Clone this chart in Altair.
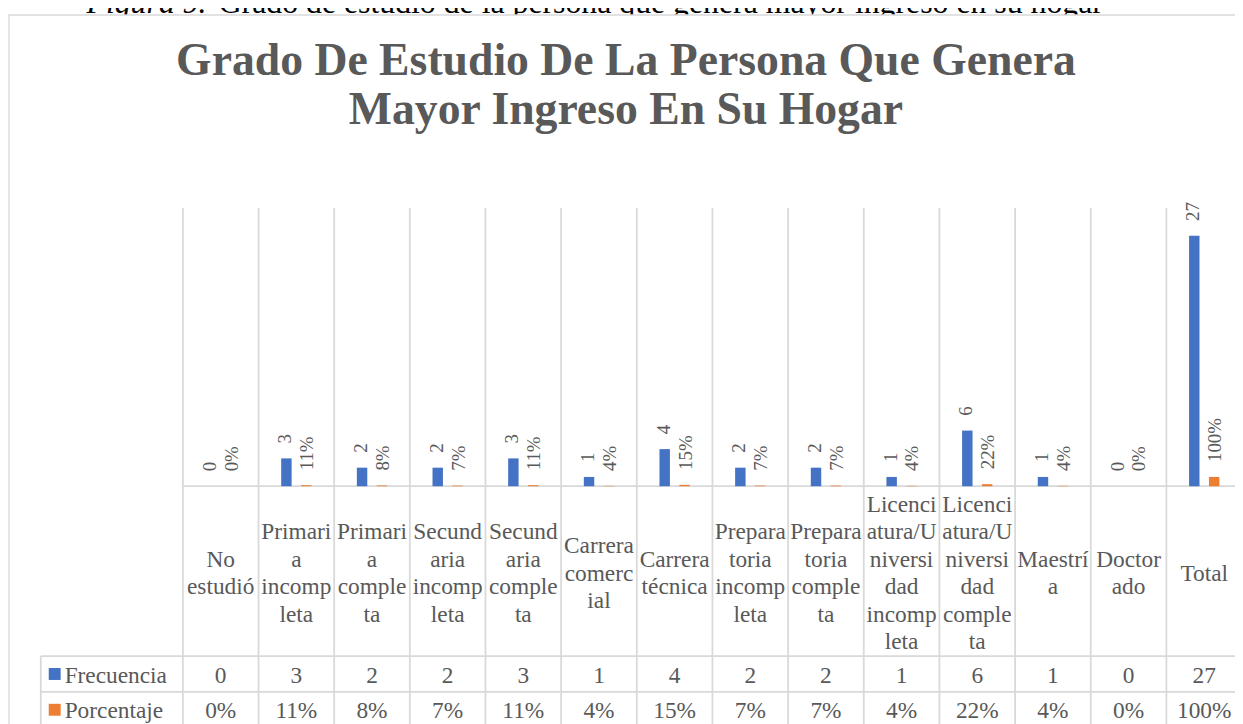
import altair as alt
import pandas as pd

# ---------------- data ----------------
categories = [
    "No estudió", "Primaria incompleta", "Primaria completa", "Secundaria incompleta",
    "Secundaria completa", "Carrera comercial", "Carrera técnica", "Preparatoria incompleta",
    "Preparatoria completa", "Licenciatura/Universidad incompleta",
    "Licenciatura/Universidad completa", "Maestría", "Doctorado", "Total",
]
category_lines = [
    ["No", "estudió"],
    ["Primari", "a", "incomp", "leta"],
    ["Primari", "a", "comple", "ta"],
    ["Secund", "aria", "incomp", "leta"],
    ["Secund", "aria", "comple", "ta"],
    ["Carrera", "comerc", "ial"],
    ["Carrera", "técnica"],
    ["Prepara", "toria", "incomp", "leta"],
    ["Prepara", "toria", "comple", "ta"],
    ["Licenci", "atura/U", "niversi", "dad", "incomp", "leta"],
    ["Licenci", "atura/U", "niversi", "dad", "comple", "ta"],
    ["Maestrí", "a"],
    ["Doctor", "ado"],
    ["Total"],
]
frecuencia = [0, 3, 2, 2, 3, 1, 4, 2, 2, 1, 6, 1, 0, 27]
porcentaje = [0.00, 0.11, 0.08, 0.07, 0.11, 0.04, 0.15, 0.07, 0.07, 0.04, 0.22, 0.04, 0.00, 1.00]
series = ["Frecuencia", "Porcentaje"]
series_colors = ["#4472C4", "#ED7D31"]
title_lines = ["Grado De Estudio De La Persona Que Genera", "Mayor Ingreso En Su Hogar"]
caption_italic = "Figura 9."
caption_rest = "Grado de estudio de la persona que genera mayor ingreso en su hogar"

FONT = "Liberation Serif"
GRAY = "#595959"
GRID = "#D9D9D9"
LH = 27.7          # line height of the table header labels
HEADER_MID = 567   # vertical centre of the table header row

df = pd.DataFrame({
    "category": categories,
    "label": ["\n".join(l) for l in category_lines],
    "nlines": [len(l) for l in category_lines],
    "freq": frecuencia,
    "pct": porcentaje,
})

XS = alt.Scale(range=[176, 1242.1], paddingInner=0, paddingOuter=0)
X = alt.X("category:N", sort=categories, axis=None, scale=XS)
XB = alt.X("category:N", sort=categories, axis=None, bandPosition=0, scale=XS)
YS = alt.Scale(domain=[0, 30], range=[479, 199])

base = alt.Chart(df)

def one(d):
    return alt.Chart(pd.DataFrame(d))

# caption (clipped at the top, as in the reference)
cap1 = one({"t": [caption_italic]}).mark_text(
    font=FONT, fontSize=32, fontStyle="italic", align="left", baseline="alphabetic", color="black"
).encode(x=alt.value(79), y=alt.value(3), text="t:N")
cap2 = one({"t": [caption_rest]}).mark_text(
    font=FONT, fontSize=32, align="left", baseline="alphabetic", color="black"
).encode(x=alt.value(212), y=alt.value(3), text="t:N")

frame = one({"k": [0]}).mark_rect(fill="white", stroke=GRID, strokeWidth=1.3).encode(
    x=alt.value(1), x2=alt.value(1320), y=alt.value(4.7), y2=alt.value(820))

title = one({"t": ["\n".join(title_lines)]}).mark_text(
    font=FONT, fontSize=46, fontWeight="bold", color=GRAY, align="center", baseline="top",
    lineBreak="\n", lineHeight=49
).encode(x=alt.value(622), y=alt.value(29), text="t:N")

vgrid = base.mark_rule(color=GRID, strokeWidth=1.8).encode(
    x=XB, y=alt.value(199), y2=alt.value(740))
baseline = one({"k": [0]}).mark_rule(color=GRID, strokeWidth=1.8).encode(
    x=alt.value(176), x2=alt.value(1300), y=alt.value(479))
hline1 = one({"k": [0]}).mark_rule(color=GRID, strokeWidth=1.8).encode(
    x=alt.value(33), x2=alt.value(1300), y=alt.value(650))
hline2 = one({"k": [0]}).mark_rule(color=GRID, strokeWidth=1.8).encode(
    x=alt.value(33), x2=alt.value(1300), y=alt.value(686))
lborder = one({"k": [0]}).mark_rule(color=GRID, strokeWidth=1.8).encode(
    x=alt.value(33), y=alt.value(650), y2=alt.value(740))

bars_f = base.mark_bar(size=10.5, xOffset=-10, color=series_colors[0]).encode(
    x=X, y=alt.Y("freq:Q", scale=YS, axis=None))
bars_p = base.mark_bar(size=10.5, xOffset=10, color=series_colors[1]).encode(
    x=X, y=alt.Y("pct:Q", scale=YS, axis=None))

lab_f = base.mark_text(font=FONT, fontSize=19, color=GRAY, angle=270, align="left",
                       baseline="middle", xOffset=-11, yOffset=-15).encode(
    x=X, y=alt.Y("freq:Q", scale=YS, axis=None), text=alt.Text("freq:Q", format="d"))
lab_p = base.mark_text(font=FONT, fontSize=19, color=GRAY, angle=270, align="left",
                       baseline="middle", xOffset=11, yOffset=-15).encode(
    x=X, y=alt.Y("pct:Q", scale=YS, axis=None), text=alt.Text("pct:Q", format=".0%"))

# category header labels: one layer per line count so each block is vertically centred
cat_layers = []
for n in sorted(set(df["nlines"])):
    cat_layers.append(
        base.transform_filter(alt.datum.nlines == n).mark_text(
            font=FONT, fontSize=23.5, color=GRAY, align="center", baseline="middle",
            lineBreak="\n", lineHeight=LH
        ).encode(x=X, y=alt.value(HEADER_MID - (n - 1) * LH / 2), text="label:N")
    )

row_f = base.mark_text(font=FONT, fontSize=23.5, color=GRAY, align="center", baseline="middle").encode(
    x=X, y=alt.value(670), text=alt.Text("freq:Q", format="d"))
row_p = base.mark_text(font=FONT, fontSize=23.5, color=GRAY, align="center", baseline="middle").encode(
    x=X, y=alt.value(705), text=alt.Text("pct:Q", format=".0%"))

leg_sq_f = one({"s": [series[0]]}).mark_rect(color=series_colors[0]).encode(
    x=alt.value(41), x2=alt.value(53), y=alt.value(662), y2=alt.value(674))
leg_sq_p = one({"s": [series[1]]}).mark_rect(color=series_colors[1]).encode(
    x=alt.value(41), x2=alt.value(53), y=alt.value(698), y2=alt.value(710))
leg_t_f = one({"s": [series[0]]}).mark_text(font=FONT, fontSize=23.5, color=GRAY, align="left",
                                            baseline="middle").encode(
    x=alt.value(57), y=alt.value(670), text="s:N")
leg_t_p = one({"s": [series[1]]}).mark_text(font=FONT, fontSize=23.5, color=GRAY, align="left",
                                            baseline="middle").encode(
    x=alt.value(57), y=alt.value(705), text="s:N")

chart = alt.layer(
    cap1, cap2, frame, title, vgrid, baseline, hline1, hline2, lborder,
    bars_f, bars_p, lab_f, lab_p, *cat_layers, row_f, row_p,
    leg_sq_f, leg_sq_p, leg_t_f, leg_t_p,
).properties(
    width=1235, height=716, padding=0,
    autosize=alt.AutoSizeParams(type="none"),
).configure_view(stroke=None)

chart.save("out.html", embed_options={"renderer": "svg", "actions": False})
